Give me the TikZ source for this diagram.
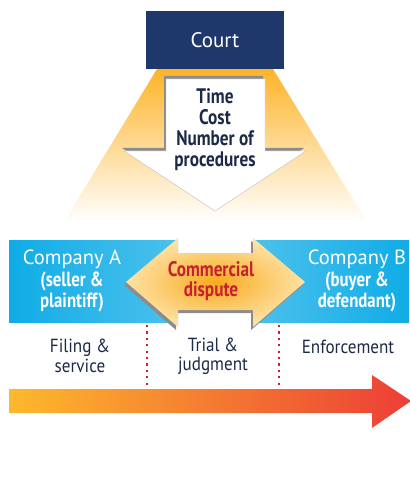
\documentclass[tikz,border=0pt]{standalone}
\usepackage{fontspec}
\setmainfont{PT Sans}
\newfontfamily\narrowfont[FakeStretch=0.82]{PT Sans}
\newfontfamily\phasefont[FakeStretch=0.9]{PT Sans}
\usetikzlibrary{positioning,calc}
\definecolor{courtnavy}{RGB}{31,56,107}
\definecolor{textnavy}{RGB}{28,42,72}
\definecolor{bandblue}{RGB}{16,172,230}
\definecolor{coneorange}{RGB}{253,180,40}
\definecolor{disputered}{RGB}{200,32,47}
\definecolor{tlorange}{RGB}{253,185,44}
\definecolor{tlred}{RGB}{236,62,54}

\begin{document}
\begin{tikzpicture}[
    x=1pt, y=-1pt,
    font=\fontsize{17}{21}\selectfont,
    court/.style={fill=courtnavy, text=white, minimum width=138, minimum height=58, inner sep=0pt, font=\fontsize{21}{21}\selectfont},
    company/.style={text=white, align=center, inner sep=0pt, font=\fontsize{20.5}{21.5}\selectfont},
    metric/.style={text=textnavy, align=center, inner sep=0pt, font=\narrowfont\bfseries\fontsize{21}{21}\selectfont},
    phase/.style={text=textnavy, align=center, inner sep=0pt, font=\phasefont\fontsize{19}{19.5}\selectfont},
    divider/.style={disputered, line width=2.2pt, dash pattern=on 2.2pt off 4.2pt},
    shadowcol/.style={fill=black!45}
]
    \useasboundingbox (0,0) rectangle (409,481);

    % light cone under the court
    \shade[top color=coneorange, bottom color=white] (157,69) -- (273,69) -- (367,222) -- (64,222) -- cycle;
    \node[court] (court) at (215,40) {Court};

    % down arrow with the three measures
    \fill[shadowcol] (164,76) -- (263,76) -- (263,148) -- (304,148) -- (215,209) -- (122,148) -- (164,148) -- cycle;
    \draw[fill=white, draw=black!25, line width=0.4pt] (166,79) -- (265,79) -- (265,151) -- (306,151) -- (215,211) -- (124,151) -- (166,151) -- cycle;
    \node[metric] (measures) at (215,130) {Time\\Cost\\Number of\\procedures};

    % the two parties
    \shade[left color=bandblue, right color=bandblue!75!white] (9,240) rectangle (178,322);
    \shade[left color=bandblue!75!white, right color=bandblue] (253,240) rectangle (409,322);
    \node[company] (compA) at (72,281) {Company A\\{\narrowfont\bfseries (seller \&}\\{\narrowfont\bfseries plaintiff)}};
    \node[company] (compB) at (357,281) {Company B\\{\narrowfont\bfseries (buyer \&}\\{\narrowfont\bfseries defendant)}};

    % double arrow
    \fill[black!45] (124,285) -- (176,241) -- (176,256) -- (251,256) -- (251,241) -- (303,285) -- (251,330) -- (251,313) -- (176,313) -- (176,330) -- cycle;
    \shade[inner color={rgb,255:red,249;green,170;blue,30}, outer color={rgb,255:red,254;green,226;blue,165}, shading=radial]
        (126,282) -- (178,238) -- (178,253) -- (253,253) -- (253,238) -- (305,282) -- (253,327) -- (253,310) -- (178,310) -- (178,327) -- cycle;
    \node[text=disputered, align=center, inner sep=0pt, font=\narrowfont\bfseries\fontsize{21}{20}\selectfont] (dispute) at (211,281) {Commercial\\dispute};

    % phases
    \coordinate (divA top) at (147,325);
    \coordinate (divA bot) at (147,386);
    \coordinate (divB top) at (279,325);
    \coordinate (divB bot) at (279,386);
    \draw[divider] (divA top) -- (divA bot);
    \draw[divider] (divB top) -- (divB bot);
    \node[phase] (filing) at (80,356) {Filing \&\\service};
    \node[phase] (trial) at (213,356) {Trial \&\\judgment};
    \node[phase] (enforce) at (348,347) {Enforcement};

    % time line
    \shade[left color=tlorange, right color=tlred] (9,389) -- (372,389) -- (372,375) -- (411,401) -- (372,428) -- (372,413) -- (9,413) -- cycle;
\end{tikzpicture}
\end{document}
